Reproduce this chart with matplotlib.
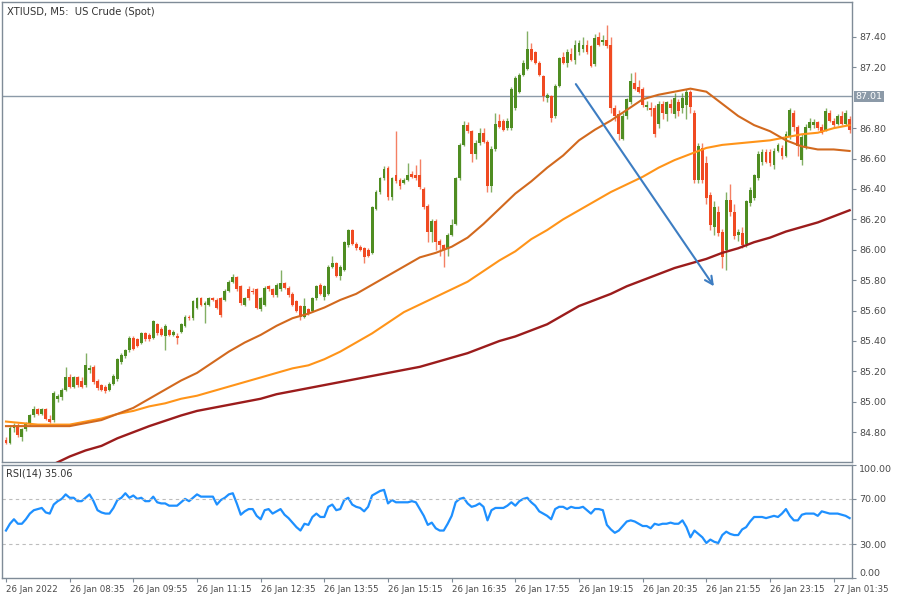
import numpy as np
import matplotlib
matplotlib.use("Agg")
import matplotlib.pyplot as plt
from matplotlib.transforms import blended_transform_factory

# ---------------- data ----------------
opens = [84.75, 84.73, 84.83, 84.85, 84.77, 84.82, 84.86, 84.91, 84.95, 84.92,
         84.95, 84.89, 84.88, 85.02, 85.03, 85.08, 85.16, 85.10, 85.16, 85.14,
         85.11, 85.21, 85.23, 85.14, 85.11, 85.10, 85.08, 85.12, 85.15, 85.26,
         85.30, 85.34, 85.42, 85.41, 85.39, 85.45, 85.44, 85.42, 85.51, 85.48,
         85.43, 85.47, 85.44, 85.43, 85.46, 85.50, 85.56, 85.55, 85.62, 85.68,
         85.64, 85.64, 85.68, 85.67, 85.68, 85.67, 85.73, 85.79, 85.82, 85.76,
         85.64, 85.74, 85.73, 85.74, 85.61, 85.64, 85.76, 85.74, 85.70, 85.74,
         85.78, 85.75, 85.71, 85.66, 85.63, 85.56, 85.61, 85.60, 85.68, 85.77,
         85.69, 85.71, 85.89, 85.91, 85.83, 85.87, 86.03, 86.13, 86.04, 86.02,
         86.01, 86.00, 85.98, 86.27, 86.38, 86.47, 86.54, 86.35, 86.49, 86.46,
         86.44, 86.46, 86.50, 86.49, 86.49, 86.40, 86.29, 86.12, 86.19, 86.06,
         86.03, 86.01, 86.10, 86.17, 86.47, 86.69, 86.82, 86.78, 86.63, 86.70,
         86.77, 86.71, 86.42, 86.66, 86.85, 86.85, 86.80, 86.80, 86.93, 87.04,
         87.15, 87.19, 87.32, 87.30, 87.23, 87.14, 87.00, 87.01, 86.88, 87.08,
         87.27, 87.23, 87.29, 87.25, 87.30, 87.32, 87.35, 87.34, 87.22, 87.40,
         87.37, 87.38, 87.35, 86.93, 86.89, 86.73, 86.88, 86.97, 87.10, 87.07,
         87.06, 86.94, 86.93, 86.93, 86.83, 86.96, 86.89, 86.96, 86.89, 86.97,
         86.93, 86.95, 87.04, 86.90, 86.46, 86.67, 86.57, 86.36, 86.15, 86.25,
         86.12, 86.00, 86.33, 86.25, 86.10, 86.11, 86.04, 86.31, 86.34, 86.47,
         86.58, 86.64, 86.64, 86.56, 86.65, 86.67, 86.62, 86.74, 86.90, 86.81,
         86.59, 86.67, 86.80, 86.82, 86.84, 86.81, 86.79, 86.90, 86.85, 86.83,
         86.88, 86.83, 86.86]
highs = [84.77, 84.85, 84.86, 84.86, 84.83, 84.87, 84.92, 84.97, 84.96, 84.96,
         84.96, 84.91, 85.07, 85.05, 85.09, 85.23, 85.18, 85.17, 85.17, 85.16,
         85.32, 85.24, 85.24, 85.15, 85.12, 85.11, 85.13, 85.18, 85.29, 85.32,
         85.35, 85.43, 85.43, 85.42, 85.46, 85.46, 85.45, 85.54, 85.52, 85.49,
         85.51, 85.48, 85.47, 85.45, 85.52, 85.57, 85.57, 85.67, 85.69, 85.69,
         85.66, 85.69, 85.69, 85.68, 85.69, 85.74, 85.80, 85.84, 85.83, 85.77,
         85.69, 85.76, 85.75, 85.75, 85.69, 85.76, 85.77, 85.75, 85.78, 85.87,
         85.79, 85.76, 85.72, 85.67, 85.64, 85.68, 85.62, 85.69, 85.77, 85.78,
         85.77, 85.90, 85.96, 85.92, 85.90, 86.06, 86.14, 86.14, 86.05, 86.03,
         86.02, 86.01, 86.29, 86.39, 86.48, 86.55, 86.55, 86.48, 86.78, 86.47,
         86.47, 86.57, 86.52, 86.56, 86.60, 86.41, 86.30, 86.20, 86.20, 86.07,
         86.04, 86.11, 86.20, 86.48, 86.70, 86.85, 86.84, 86.79, 86.72, 86.80,
         86.80, 86.72, 86.68, 86.90, 86.89, 86.86, 86.87, 87.07, 87.14, 87.16,
         87.25, 87.44, 87.36, 87.31, 87.24, 87.15, 87.03, 87.02, 87.09, 87.27,
         87.30, 87.32, 87.33, 87.38, 87.38, 87.40, 87.38, 87.35, 87.42, 87.43,
         87.41, 87.48, 87.40, 86.95, 86.92, 86.90, 87.00, 87.16, 87.17, 87.12,
         87.07, 86.98, 86.97, 86.95, 86.98, 86.98, 86.98, 86.99, 87.03, 86.99,
         87.03, 87.06, 87.05, 86.92, 86.70, 86.70, 86.62, 86.38, 86.32, 86.29,
         86.14, 86.38, 86.43, 86.30, 86.14, 86.15, 86.33, 86.41, 86.50, 86.65,
         86.66, 86.66, 86.66, 86.67, 86.70, 86.69, 86.78, 86.93, 86.92, 86.82,
         86.76, 86.83, 86.87, 86.86, 86.85, 86.83, 86.93, 86.92, 86.87, 86.89,
         86.91, 86.92, 86.88]
lows = [84.72, 84.72, 84.80, 84.77, 84.74, 84.81, 84.84, 84.90, 84.91, 84.91,
        84.88, 84.86, 84.87, 85.00, 85.01, 85.07, 85.09, 85.09, 85.10, 85.09,
        85.10, 85.19, 85.12, 85.08, 85.07, 85.06, 85.07, 85.11, 85.14, 85.25,
        85.29, 85.33, 85.34, 85.36, 85.38, 85.40, 85.40, 85.41, 85.44, 85.43,
        85.34, 85.43, 85.43, 85.38, 85.45, 85.49, 85.54, 85.54, 85.61, 85.63,
        85.52, 85.63, 85.66, 85.61, 85.56, 85.66, 85.72, 85.78, 85.73, 85.64,
        85.63, 85.67, 85.71, 85.61, 85.60, 85.63, 85.73, 85.69, 85.69, 85.73,
        85.74, 85.69, 85.63, 85.59, 85.54, 85.55, 85.57, 85.59, 85.67, 85.70,
        85.67, 85.70, 85.88, 85.82, 85.80, 85.86, 86.02, 86.03, 86.00, 85.99,
        85.91, 85.95, 85.97, 86.26, 86.37, 86.46, 86.33, 86.33, 86.44, 86.40,
        86.43, 86.45, 86.47, 86.46, 86.40, 86.27, 86.05, 86.05, 86.00, 85.96,
        85.89, 85.96, 86.09, 86.16, 86.46, 86.68, 86.77, 86.58, 86.60, 86.69,
        86.70, 86.38, 86.38, 86.65, 86.80, 86.78, 86.79, 86.79, 86.92, 87.03,
        87.14, 87.18, 87.24, 87.22, 87.14, 86.98, 86.97, 86.84, 86.87, 87.07,
        87.22, 87.20, 87.24, 87.22, 87.28, 87.30, 87.29, 87.20, 87.21, 87.34,
        87.35, 87.33, 86.90, 86.85, 86.72, 86.72, 86.86, 86.96, 87.05, 87.03,
        86.94, 86.92, 86.88, 86.74, 86.80, 86.86, 86.85, 86.90, 86.87, 86.88,
        86.90, 86.86, 86.90, 86.44, 86.44, 86.44, 86.30, 86.13, 86.10, 86.09,
        85.88, 85.87, 86.22, 86.07, 86.06, 86.01, 86.02, 86.29, 86.33, 86.46,
        86.56, 86.57, 86.55, 86.53, 86.64, 86.60, 86.61, 86.73, 86.78, 86.62,
        86.56, 86.66, 86.79, 86.80, 86.79, 86.76, 86.78, 86.84, 86.81, 86.82,
        86.82, 86.82, 86.77]
closes = [84.73, 84.83, 84.85, 84.78, 84.82, 84.86, 84.91, 84.95, 84.92, 84.95,
          84.89, 84.87, 85.06, 85.04, 85.08, 85.16, 85.10, 85.16, 85.11, 85.10,
          85.24, 85.22, 85.13, 85.09, 85.08, 85.07, 85.12, 85.17, 85.28, 85.31,
          85.34, 85.42, 85.35, 85.37, 85.45, 85.41, 85.41, 85.53, 85.45, 85.44,
          85.50, 85.44, 85.46, 85.42, 85.51, 85.56, 85.55, 85.66, 85.68, 85.64,
          85.65, 85.68, 85.67, 85.62, 85.57, 85.73, 85.79, 85.82, 85.74, 85.65,
          85.68, 85.68, 85.72, 85.62, 85.68, 85.75, 85.74, 85.70, 85.77, 85.78,
          85.75, 85.70, 85.64, 85.60, 85.56, 85.63, 85.58, 85.68, 85.76, 85.71,
          85.76, 85.89, 85.91, 85.83, 85.89, 86.05, 86.13, 86.04, 86.01, 86.00,
          85.95, 85.96, 86.28, 86.38, 86.47, 86.53, 86.35, 86.47, 86.45, 86.42,
          86.46, 86.49, 86.48, 86.47, 86.41, 86.28, 86.12, 86.19, 86.05, 86.03,
          86.00, 86.10, 86.16, 86.47, 86.69, 86.82, 86.78, 86.63, 86.70, 86.77,
          86.71, 86.42, 86.66, 86.83, 86.81, 86.79, 86.85, 87.06, 87.13, 87.15,
          87.23, 87.32, 87.25, 87.23, 87.15, 87.01, 87.02, 86.87, 87.08, 87.26,
          87.23, 87.30, 87.25, 87.35, 87.36, 87.35, 87.30, 87.21, 87.39, 87.35,
          87.38, 87.34, 86.93, 86.88, 86.76, 86.88, 86.99, 87.11, 87.06, 87.04,
          86.95, 86.95, 86.92, 86.76, 86.96, 86.90, 86.97, 86.93, 87.00, 86.91,
          87.00, 87.04, 86.94, 86.46, 86.68, 86.46, 86.34, 86.16, 86.28, 86.11,
          85.95, 86.33, 86.25, 86.09, 86.12, 86.03, 86.32, 86.39, 86.49, 86.63,
          86.64, 86.58, 86.57, 86.65, 86.69, 86.62, 86.76, 86.92, 86.81, 86.68,
          86.74, 86.81, 86.84, 86.84, 86.80, 86.77, 86.91, 86.85, 86.82, 86.88,
          86.83, 86.90, 86.79]

ma_bars = [0, 4, 8, 12, 16, 20, 24, 28, 32, 36, 40, 44, 48, 52, 56, 60, 64,
           68, 72, 76, 80, 84, 88, 92, 96, 100, 104, 108, 112, 116, 120, 124,
           128, 132, 136, 140, 144, 148, 152, 156, 160, 164, 168, 172, 176,
           180, 184, 188, 192, 196, 200, 204, 208, 212]
ma_fast = [84.84, 84.84, 84.84, 84.84, 84.84, 84.86, 84.88, 84.92, 84.96, 85.02,
           85.08, 85.14, 85.19, 85.26, 85.33, 85.39, 85.44, 85.50, 85.55, 85.58,
           85.62, 85.67, 85.71, 85.77, 85.83, 85.89, 85.95, 85.98, 86.02, 86.08,
           86.17, 86.27, 86.37, 86.45, 86.54, 86.62, 86.72, 86.79, 86.85, 86.92,
           86.99, 87.02, 87.04, 87.06, 87.04, 86.96, 86.88, 86.82, 86.78, 86.72,
           86.68, 86.66, 86.66, 86.65]
ma_mid = [84.87, 84.86, 84.85, 84.85, 84.85, 84.87, 84.89, 84.92, 84.94, 84.97,
          84.99, 85.02, 85.04, 85.07, 85.10, 85.13, 85.16, 85.19, 85.22, 85.24,
          85.28, 85.33, 85.39, 85.45, 85.52, 85.59, 85.64, 85.69, 85.74, 85.79,
          85.86, 85.93, 85.99, 86.07, 86.13, 86.20, 86.26, 86.32, 86.38, 86.43,
          86.48, 86.54, 86.59, 86.63, 86.67, 86.69, 86.70, 86.71, 86.72, 86.74,
          86.76, 86.77, 86.80, 86.82]
ma_slow = [84.45, 84.49, 84.53, 84.59, 84.64, 84.68, 84.71, 84.76, 84.80, 84.84,
           84.875, 84.91, 84.94, 84.96, 84.98, 85.00, 85.02, 85.05, 85.07, 85.09,
           85.11, 85.13, 85.15, 85.17, 85.19, 85.21, 85.23, 85.26, 85.29, 85.32,
           85.36, 85.40, 85.43, 85.47, 85.51, 85.57, 85.63, 85.67, 85.71, 85.76,
           85.80, 85.84, 85.88, 85.91, 85.94, 85.98, 86.01, 86.05, 86.08, 86.12,
           86.15, 86.18, 86.22, 86.26]

rsi = [42, 48, 52, 48, 48, 52, 57, 60, 61, 62,
       58, 57, 65, 68, 70, 74, 71, 71, 68, 68,
       71, 74, 68, 60, 58, 57, 57, 62, 69, 71,
       75, 71, 73, 70, 71, 68, 68, 72, 67, 66,
       66, 64, 64, 64, 67, 70, 68, 71, 74, 72,
       72, 72, 72, 65, 69, 71, 74, 75, 66, 56,
       59, 61, 61, 55, 52, 60, 61, 57, 59, 61,
       56, 53, 49, 45, 42, 48, 47, 54, 57, 54,
       54, 63, 65, 60, 61, 69, 71, 65, 63, 62,
       59, 63, 73, 75, 77, 78, 66, 69, 67, 67,
       67, 67, 68, 67, 61, 55, 47, 49, 44, 42,
       42, 48, 55, 67, 70, 71, 66, 63, 64, 66,
       63, 51, 60, 62, 62, 62, 64, 67, 64, 68,
       70, 71, 67, 64, 59, 57, 55, 52, 61, 63,
       63, 61, 63, 62, 62, 63, 60, 57, 61, 61,
       60, 47, 43, 40, 42, 46, 50, 51, 50, 48,
       46, 46, 44, 48, 47, 48, 48, 49, 48, 48,
       51, 45, 36, 42, 39, 36, 31, 34, 32, 31,
       38, 41, 39, 38, 38, 43, 45, 50, 54, 54,
       54, 53, 54, 55, 54, 57, 61, 55, 51, 51,
       56, 57, 57, 57, 55, 59, 58, 57, 57, 57,
       56, 55, 53]

time_labels = ["26 Jan 2022", "26 Jan 08:35", "26 Jan 09:55", "26 Jan 11:15",
               "26 Jan 12:35", "26 Jan 13:55", "26 Jan 15:15", "26 Jan 16:35",
               "26 Jan 17:55", "26 Jan 19:15", "26 Jan 20:35", "26 Jan 21:55",
               "26 Jan 23:15", "27 Jan 01:35"]
tick_bars = [0, 16, 32, 48, 64, 80, 96, 112, 128, 144, 160, 176, 192, 208]
price_ticks = [84.80, 85.00, 85.20, 85.40, 85.60, 85.80, 86.00, 86.20,
               86.40, 86.60, 86.80, 87.20, 87.40]
hline_level = 87.01
arrow_bars = [143.2, 177.9]
arrow_prices = [87.09, 85.76]
rsi_levels = [30, 70]
rsi_ticks = [0, 30, 70, 100]
title = "XTIUSD, M5:  US Crude (Spot)"
rsi_title = "RSI(14) 35.06"

# ---------------- styling ----------------
W, H = 898, 605
GREEN = "#4f8d22"
RED = "#f04a22"
FRAME = "#7f8b97"
TXT = "#4a4a4a"

fig = plt.figure(figsize=(W / 100, H / 100), dpi=100)
fig.patch.set_facecolor("white")


def fr(x0, y0, x1, y1):
    return [x0 / W, 1 - y1 / H, (x1 - x0) / W, (y1 - y0) / H]


ax = fig.add_axes(fr(2, 2, 852, 462))
ax2 = fig.add_axes(fr(2, 465, 852, 578))

o = np.array(opens)
h = np.array(highs)
l = np.array(lows)
c = np.array(closes)
idx = np.arange(len(c))
up = c >= o
cols = np.where(up, GREEN, RED)

ax.vlines(idx, l, h, colors=cols, lw=1.0, alpha=0.7, zorder=2)
body_bottom = np.minimum(o, c)
body_h = np.maximum(np.abs(c - o), 0.006)
ax.bar(idx, body_h, bottom=body_bottom, width=0.72, color=cols, lw=0, zorder=3)

ax.plot(ma_bars, ma_slow, color="#9b1c1c", lw=1.7, zorder=4)
ax.plot(ma_bars, ma_mid, color="#ff9419", lw=1.5, zorder=4)
ax.plot(ma_bars, ma_fast, color="#d2691e", lw=1.5, zorder=4)

ax.axhline(hline_level, color="#8c9aa8", lw=1.0, zorder=1)

ax.annotate("", xy=(arrow_bars[1], arrow_prices[1]),
            xytext=(arrow_bars[0], arrow_prices[0]),
            arrowprops=dict(arrowstyle="->", color="#3d7dc2", lw=1.5,
                            mutation_scale=14, shrinkA=0, shrinkB=0),
            zorder=5)

ax.set_xlim(-1.0, 212.6)
ax.set_ylim(84.604, 87.63)
ax.yaxis.tick_right()
ax.set_yticks(price_ticks)
ax.set_yticklabels([f"{v:.2f}" for v in price_ticks])
ax.tick_params(axis="y", direction="out", length=3, width=0.8, color=FRAME,
               labelsize=6.8, labelcolor=TXT, pad=2)
ax.tick_params(axis="x", bottom=False, labelbottom=False)

tr = blended_transform_factory(ax.transAxes, ax.transData)
ax.text(1.004, hline_level, f"{hline_level:.2f}", transform=tr, ha="left",
        va="center", fontsize=6.8, color="white", clip_on=False,
        bbox=dict(boxstyle="square,pad=0.12", fc="#8c9aa8", ec="none"))

# RSI panel
ax2.plot(idx, rsi, color="#1e90ff", lw=1.6)
for lv in rsi_levels:
    ax2.axhline(lv, color="#bdbdbd", lw=0.8, ls=(0, (3, 3)))
ax2.set_xlim(-1.0, 212.6)
ax2.set_ylim(0, 100)
ax2.yaxis.tick_right()
ax2.set_yticks(rsi_ticks)
ax2.set_yticklabels([f"{v:.2f}" for v in rsi_ticks])
ax2.tick_params(axis="y", direction="out", length=3, width=0.8, color=FRAME,
                labelsize=6.8, labelcolor=TXT, pad=2)
ylabs = ax2.get_yticklabels()
ylabs[0].set_va("bottom")
ylabs[-1].set_va("top")

ax2.set_xticks(tick_bars)
ax2.set_xticklabels(time_labels)
ax2.tick_params(axis="x", direction="out", length=3, width=0.8, color=FRAME,
                labelsize=6.2, labelcolor=TXT, pad=2)
for t in ax2.get_xticklabels():
    t.set_ha("left")
    t.set_fontfamily(["Liberation Sans Narrow", "DejaVu Sans"])

for a in (ax, ax2):
    for s in a.spines.values():
        s.set_color(FRAME)
        s.set_linewidth(1.0)

fig.text(7 / W, 1 - 12 / H, title, fontsize=7.2, color="#333333",
         ha="left", va="center")
fig.text(6 / W, 1 - 474 / H, rsi_title, fontsize=7.0, color="#333333",
         ha="left", va="center")

fig.savefig("out.png", dpi=100, facecolor="white")
